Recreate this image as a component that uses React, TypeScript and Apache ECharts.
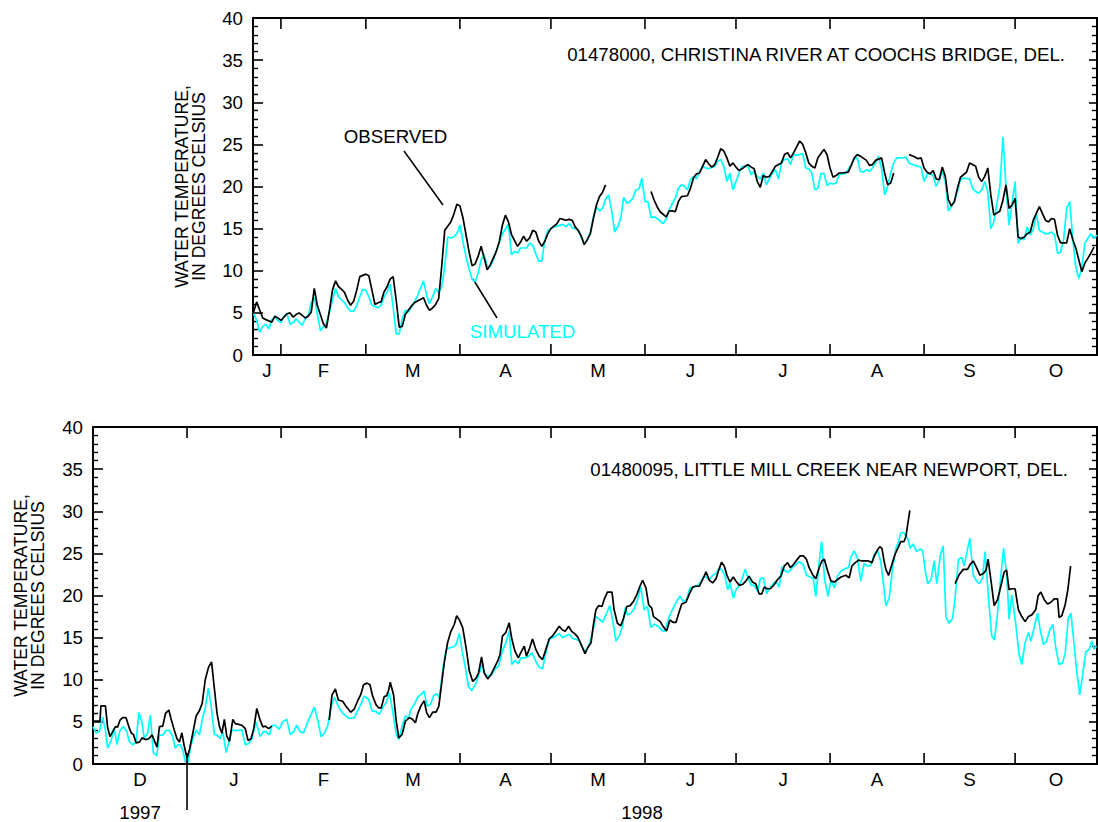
import { useEffect, useRef } from 'react';
import * as echarts from 'echarts';

const DAY = 86400000;
const JAN1 = Date.UTC(1998, 0, 1);
const FONT = 'Liberation Sans, Arial, Helvetica, sans-serif';
const CYAN = '#00FFFF';
const TEXT_SIZE = 18.7;

// Month initials, one per month starting December 1997
const monthLabels = ['D', 'J', 'F', 'M', 'A', 'M', 'J', 'J', 'A', 'S', 'O'];
const yearLabels = ['1997', '1998'];
const axisName = 'WATER TEMPERATURE,\nIN DEGREES CELSIUS';

// Plotted range of each panel, in days after 1 January 1998
const christinaRange = [21.8, 300];
const littleMillRange = [-31, 300];

// Daily water temperature, [days after 1 Jan 1998, degrees Celsius]; null marks a gap in the record
const christinaObserved: [number, number | null][] = [
  [22, 5.1], [23, 6.3], [25, 4.4], [26, 4.2], [28, 3.9], [29, 4.6], [30, 4.4], [31, 4.1], [33, 4.9], [34, 5.0],
  [35, 4.5], [36, 4.8], [37, 5.0], [38, 4.7], [39, 4.4], [40, 4.6], [41, 5.1], [42, 7.9], [43, 5.9], [45, 3.7],
  [46, 3.2], [47, 5.3], [48, 7.7], [49, 8.8], [50, 8.1], [51, 7.8], [52, 7.4], [53, 6.5], [54, 5.9], [55, 6.4],
  [56, 7.7], [57, 9.3], [59, 9.6], [60, 9.4], [61, 7.7], [62, 6.0], [63, 6.2], [64, 6.3], [65, 7.5], [66, 8.1],
  [67, 9.0], [68, 9.3], [69, 6.5], [70, 3.3], [71, 3.4], [72, 4.8], [73, 5.3], [74, 5.8], [75, 6.2], [76, 6.4],
  [77, 6.6], [78, 6.8], [79, 5.9], [80, 5.3], [81, 5.6], [82, 6.0], [83, 6.7], [84, 10.5], [85, 14.8], [87, 15.8],
  [88, 16.7], [89, 17.9], [90, 17.7], [91, 16.3], [92, 14.3], [93, 12.3], [94, 10.6], [95, 10.8], [96, 11.7], [97, 12.9],
  [98, 11.5], [99, 10.1], [100, 10.7], [101, 11.5], [102, 12.3], [103, 13.5], [104, 15.4], [105, 16.6], [106, 15.8], [107, 14.3],
  [109, 12.9], [110, 13.4], [111, 14.1], [112, 13.5], [113, 13.9], [114, 14.8], [115, 14.6], [116, 13.5], [117, 12.9], [118, 13.5],
  [119, 14.4], [120, 15.0], [121, 15.3], [122, 15.6], [123, 16.2], [124, 16.1], [125, 16.0], [126, 16.1], [127, 16.0], [128, 15.2],
  [129, 14.8], [130, 14.1], [131, 13.1], [132, 13.7], [133, 14.4], [134, 16.2], [135, 17.8], [136, 18.8], [137, 19.3], [138, 20.2],
  [145, null],
  [153, 19.4], [154, 18.4], [155, 17.6], [156, 17.0], [158, 16.4], [159, 17.1], [160, 17.1], [161, 17.0], [162, 18.2], [163, 18.8],
  [165, 18.9], [166, 19.8], [167, 21.0], [168, 21.5], [169, 21.6], [170, 22.4], [171, 23.2], [172, 22.7], [173, 22.3], [174, 22.6],
  [175, 23.5], [176, 24.5], [177, 24.2], [178, 23.4], [179, 22.4], [180, 22.8], [181, 22.3], [182, 21.9], [183, 22.1], [184, 22.4],
  [185, 22.6], [186, 22.3], [187, 22.1], [188, 20.6], [189, 19.9], [190, 21.3], [191, 21.1], [192, 21.2], [193, 21.8], [194, 22.4],
  [196, 22.8], [197, 23.8], [198, 24.0], [199, 23.4], [200, 24.0], [201, 24.7], [202, 25.4], [203, 25.0], [204, 24.0], [205, 22.8],
  [206, 22.4], [207, 22.2], [208, 23.4], [210, 24.4], [211, 23.8], [212, 22.2], [213, 21.1], [214, 21.3], [215, 21.6], [216, 21.6],
  [218, 21.7], [219, 22.5], [220, 23.4], [221, 23.8], [222, 23.6], [224, 23.1], [225, 22.5], [226, 22.6], [227, 23.1], [229, 23.4],
  [230, 21.6], [231, 20.2], [232, 20.4], [233, 21.6],
  [235, null],
  [238, 23.8], [240, 23.5], [241, 23.3], [242, 23.4], [243, 22.2], [244, 21.7], [245, 21.5], [246, 21.9], [247, 20.9], [248, 20.8],
  [249, 22.3], [250, 21.2], [251, 18.4], [252, 17.7], [253, 18.2], [254, 19.8], [255, 21.1], [257, 21.7], [258, 22.8], [260, 22.4],
  [261, 21.1], [262, 20.6], [263, 21.2], [264, 22.2], [265, 19.0], [266, 16.6], [268, 17.1], [269, 18.4], [270, 20.2], [271, 17.4],
  [272, 17.8], [273, 18.6], [274, 14.0], [275, 13.8], [276, 14.0], [277, 14.4], [278, 14.6], [279, 16.0], [281, 17.6], [282, 16.8],
  [283, 16.0], [284, 15.8], [285, 16.2], [286, 16.1], [287, 14.2], [288, 13.3], [290, 13.3], [291, 15.0], [292, 13.7], [293, 12.7],
  [295, 9.9], [296, 10.9], [297, 11.5], [298, 12.1], [299, 12.8],
];

const christinaSimulated: [number, number | null][] = [
  [22, 4.9], [23, 4.1], [24, 2.7], [25, 3.4], [26, 3.65], [27, 3.1], [28, 4.2], [29, 4.5], [30, 4.1], [31, 3.85],
  [32, 4.6], [33, 4.9], [34, 3.65], [35, 3.8], [36, 4.3], [37, 3.9], [38, 3.5], [39, 4.3], [40, 4.7], [41, 6.2],
  [42, 6.9], [44, 2.9], [45, 3.3], [46, 3.8], [48, 6.5], [49, 7.9], [50, 6.9], [52, 6.2], [53, 5.6], [54, 5.2],
  [55, 5.2], [56, 5.9], [57, 6.9], [58, 7.8], [59, 7.7], [60, 6.9], [61, 5.9], [63, 5.6], [64, 5.9], [65, 6.9],
  [66, 7.5], [67, 8.4], [68, 5.7], [69, 2.5], [70, 2.5], [71, 4.3], [72, 5.3], [73, 5.1], [74, 5.7], [75, 6.3],
  [76, 7.0], [77, 7.9], [78, 8.8], [79, 7.1], [80, 6.1], [81, 6.9], [82, 7.9], [83, 7.4], [84, 8.1], [85, 10.5],
  [86, 14.0], [87, 13.9], [88, 14.0], [89, 14.4], [90, 15.4], [91, 13.5], [92, 11.7], [93, 10.3], [94, 9.0], [95, 8.7],
  [96, 9.7], [97, 11.3], [98, 11.9], [99, 10.5], [100, 10.5], [101, 11.3], [102, 12.4], [103, 13.3], [104, 14.4], [106, 15.5],
  [107, 11.9], [108, 12.3], [109, 12.1], [110, 12.7], [111, 12.7], [112, 12.7], [113, 13.3], [114, 13.0], [115, 12.0], [116, 11.15],
  [117, 11.15], [118, 13.65], [119, 14.8], [120, 15.0], [121, 15.2], [122, 15.3], [124, 15.5], [125, 15.2], [126, 15.6], [127, 15.1],
  [128, 15.0], [129, 14.8], [130, 14.0], [131, 13.2], [132, 13.65], [133, 14.6], [134, 16.4], [135, 17.6], [136, 17.1], [137, 17.4],
  [138, 18.5], [139, 19.0], [140, 17.2], [141, 14.6], [142, 15.2], [143, 16.2], [144, 18.7], [145, 18.0], [146, 18.2], [147, 18.6],
  [148, 19.6], [149, 19.7], [150, 21.0], [151, 18.2], [152, 18.2], [153, 16.3], [154, 16.4], [155, 16.2], [157, 15.6], [158, 16.1],
  [159, 17.2], [160, 18.0], [161, 18.6], [162, 19.8], [163, 20.2], [164, 20.0], [165, 19.6], [166, 20.8], [167, 21.2], [168, 20.9],
  [169, 21.8], [170, 22.4], [171, 22.2], [172, 22.1], [174, 22.4], [175, 23.0], [176, 23.2], [177, 22.4], [178, 20.6], [179, 21.6],
  [180, 19.6], [181, 20.6], [182, 21.6], [183, 22.4], [185, 22.4], [186, 21.4], [187, 21.8], [188, 21.2], [189, 20.9], [190, 21.6],
  [191, 20.2], [192, 20.9], [193, 21.6], [194, 22.0], [195, 20.9], [196, 22.8], [197, 23.2], [198, 23.3], [199, 22.6], [200, 23.8],
  [201, 23.7], [202, 23.8], [203, 23.9], [204, 22.2], [205, 22.1], [206, 21.6], [207, 19.6], [208, 19.8], [209, 21.5], [210, 21.6],
  [211, 20.1], [212, 20.4], [213, 20.3], [214, 20.4], [215, 21.4], [216, 21.5], [217, 21.5], [219, 22.6], [220, 23.3], [221, 23.4],
  [222, 21.8], [223, 21.7], [224, 22.0], [225, 21.8], [226, 22.2], [227, 22.8], [228, 23.6], [229, 22.1], [230, 19.0], [231, 20.0],
  [232, 21.6], [233, 22.8], [234, 23.4], [236, 23.4], [237, 23.5], [238, 22.8], [240, 22.5], [241, 22.4], [242, 22.3], [243, 20.6],
  [244, 21.5], [245, 21.5], [246, 21.3], [247, 20.0], [248, 20.8], [249, 21.8], [250, 20.6], [251, 17.1], [252, 17.6], [253, 18.3],
  [254, 19.4], [255, 20.8], [256, 21.0], [258, 20.9], [259, 19.8], [260, 19.4], [261, 19.2], [262, 19.6], [263, 20.6], [264, 19.4],
  [265, 15.0], [266, 15.8], [267, 18.0], [268, 20.0], [269, 25.9], [270, 20.0], [271, 15.4], [272, 18.0], [273, 20.6], [274, 13.25],
  [275, 14.0], [276, 13.65], [277, 15.2], [278, 14.25], [279, 14.9], [280, 16.75], [281, 14.8], [283, 14.4], [284, 14.4], [285, 14.6],
  [286, 14.25], [287, 12.1], [288, 12.2], [289, 13.7], [290, 17.4], [291, 18.2], [292, 13.85], [293, 10.5], [294, 9.1], [295, 10.3],
  [296, 13.3], [297, 13.85], [298, 14.4], [299, 13.85], [300, 14.25],
];

const littleMillObserved: [number, number | null][] = [
  [-31, 5.1], [-28.7, 5.1], [-28.4, 6.9], [-26.9, 6.9], [-26.2, 4.4], [-25.4, 3.25], [-24.5, 3.85], [-23.6, 4.44], [-22.9, 4.37], [-22.1, 5.2],
  [-21.2, 5.5], [-20.1, 5.5], [-19.2, 4.44], [-18.4, 3.7], [-17.6, 3.45], [-16.8, 2.5], [-15.7, 2.6], [-14.8, 3.1], [-13.7, 2.9], [-12.6, 3.0],
  [-11.5, 3.45], [-10.8, 2.8], [-9.9, 2.0], [-9.1, 4.44], [-8, 4.5], [-7.1, 6.0], [-6, 6.4], [-5.3, 5.4], [-4.2, 4.0], [-3.3, 3.0],
  [-2.5, 2.6], [-1.7, 3.7], [-0.9, 2.1], [0, 0.7], [0.8, 1.7], [1.9, 3.65], [3, 5.7], [4.1, 6.35], [5, 7.2], [6, 10.0],
  [7.1, 11.5], [8.1, 12.1], [9, 9.0], [9.9, 6.0], [10.7, 4.44], [11.5, 3.65], [12.3, 5.3], [13.1, 3.3], [14, 2.7], [15.1, 5.3],
  [15.9, 4.8], [17, 4.7], [18.1, 4.6], [19.2, 4.2], [20.1, 2.8], [21.1, 3.0], [22, 4.2], [23, 6.6], [24.1, 5.2], [25, 4.4],
  [25.8, 4.5], [26.9, 4.2], [28, 4.5],
  [37, null],
  [46.9, 5.2], [47.8, 8.2], [48.9, 8.9], [49.9, 7.6], [51.3, 7.45], [52.4, 6.85], [54, 6.15], [55.1, 6.5], [56.2, 7.45], [57.3, 8.25],
  [58.2, 9.4], [59.3, 9.6], [60.3, 9.4], [61.2, 8.05], [62.3, 7.05], [63.2, 6.65], [64, 6.65], [65, 8.0], [65.8, 8.1], [66.5, 8.8],
  [67, 9.7], [68.1, 8.2], [68.9, 5.3], [69.8, 3.1], [70.9, 3.5], [72, 5.1], [73.3, 5.5], [74.2, 5.35], [75.3, 4.9], [76, 5.9],
  [77.1, 6.9], [78.2, 7.5], [79, 6.1], [79.9, 5.5], [81, 6.15], [82.1, 6.15], [83, 6.85], [83.7, 8.85], [84.8, 12.0], [85.9, 14.4],
  [87, 15.75], [88.1, 16.55], [88.9, 17.6], [89.8, 17.1], [90.9, 16.15], [92, 13.8], [93.1, 11.0], [94.2, 9.8], [95.3, 10.2], [96.1, 10.8],
  [97.1, 12.7], [98, 10.8], [99.1, 10.1], [100.2, 10.6], [101.3, 11.4], [102.4, 12.2], [103.2, 13.0], [104, 15.2], [105.1, 15.6], [106.2, 16.75],
  [107.1, 14.8], [108.1, 13.4], [109.2, 12.6], [110.3, 13.4], [111.2, 14.0], [111.9, 12.8], [112.8, 13.6], [113.9, 14.85], [115, 13.6], [116.1, 12.8],
  [117.2, 12.4], [118.3, 13.6], [119.4, 14.85], [120.5, 15.2], [121.6, 15.75], [122.7, 16.35], [123.8, 15.9], [124.7, 15.75], [125.8, 16.35], [126.8, 15.75],
  [127.7, 15.5], [128.8, 15.1], [129.9, 14.2], [131.2, 13.1], [132.1, 13.8], [133.2, 14.4], [134, 16.6], [134.8, 18.3], [135.7, 18.8], [136.8, 18.7],
  [137.5, 19.5], [138.6, 20.4], [140.1, 20.4], [140.8, 18.3], [141.9, 16.7], [143, 16.4], [143.9, 17.3], [145, 18.7], [146.1, 18.8], [147.2, 19.3],
  [148.3, 20.1], [149.3, 21.1], [150.2, 21.8], [151.3, 20.9], [152.2, 18.9], [153.2, 18.5], [153.8, 17.5], [154.9, 17.2], [156, 16.9], [157, 16.3],
  [158.1, 15.8], [159.2, 17.1], [160.3, 16.8], [161.2, 16.8], [162.1, 17.9], [163.1, 19.0], [164.5, 19.2], [165.6, 20.2], [166.7, 21.0], [167.5, 21.1],
  [168.9, 21.1], [170, 21.9], [171.1, 22.8], [172.2, 21.8], [173.3, 21.5], [174.4, 22.0], [175.2, 22.9], [176.2, 23.95], [177.1, 23.5], [178, 22.4],
  [179, 21.6], [180.1, 22.2], [181, 21.7], [182.1, 21.2], [183.1, 21.3], [184.2, 21.7], [185.3, 22.3], [186.4, 21.6], [187.5, 21.4], [188.6, 20.2],
  [189.5, 20.2], [190.3, 21.0], [191.2, 20.8], [192.3, 20.8], [193.6, 21.3], [194.7, 21.9], [195.8, 22.3], [196.9, 23.5], [198, 23.9], [198.9, 23.3],
  [200, 23.7], [201, 24.2], [202.1, 24.7], [203.2, 24.7], [204.2, 24.3], [205.1, 23.3], [206.2, 22.5], [207.3, 22.0], [208.4, 23.3], [209.3, 24.1],
  [210.1, 24.3], [211.2, 22.9], [212.3, 21.7], [213.4, 21.6], [214.5, 21.9], [215.6, 22.2], [217.2, 22.4], [218.3, 22.1], [219.2, 23.5], [220.3, 23.9],
  [221.4, 24.2], [222.5, 24.1], [223.6, 24.1], [224.7, 24.1], [225.8, 23.9], [226.5, 24.6], [227.6, 25.4], [228.4, 25.8], [229.1, 25.6], [229.8, 24.1],
  [230.4, 23.1], [231.3, 22.4], [232.4, 23.7], [233.5, 24.97], [234.6, 25.8], [235.3, 26.4], [236.4, 26.4], [237, 27.0], [237.5, 28.2], [238.3, 30.1],
  [245, null],
  [253.2, 21.4], [254.6, 22.5], [255.9, 23.1], [257.3, 23.1], [258.2, 23.7], [259.2, 24.1], [260.3, 23.3], [261.4, 22.4], [262.5, 22.6], [263.4, 23.0],
  [264.1, 24.3], [265, 21.9], [266.1, 18.8], [267.2, 19.5], [268.3, 21.1], [269.4, 22.8], [270.2, 23.0], [271, 20.7], [271.9, 20.8], [273, 20.8],
  [274.1, 18.3], [275.2, 17.5], [276.3, 16.9], [277.4, 17.5], [278.5, 17.7], [279.8, 18.3], [280.6, 20.0], [281.5, 20.4], [282.6, 19.5], [283.7, 19.0],
  [284.8, 19.2], [285.9, 19.6], [287, 19.6], [287.5, 17.4], [288.4, 17.6], [289.5, 18.9], [290.4, 20.7], [291.3, 23.5],
];

const littleMillSimulated: [number, number | null][] = [
  [-31, 4.44], [-30, 3.65], [-28.9, 3.85], [-27.8, 5.6], [-26.9, 4.0], [-26.2, 1.9], [-25.1, 2.7], [-24, 4.2], [-23.1, 2.3], [-22.1, 4.0],
  [-21, 4.44], [-19.9, 3.85], [-19, 2.65], [-17.9, 2.26], [-16.8, 2.65], [-15.9, 6.1], [-14.9, 5.0], [-14.1, 3.05], [-13, 3.65], [-12.1, 5.8],
  [-11.1, 1.35], [-10, 0.95], [-9.1, 3.45], [-8, 3.4], [-6.9, 4.0], [-5.8, 4.0], [-4.7, 3.25], [-3.9, 1.9], [-3.1, 2.26], [-2.2, 2.26],
  [-1.4, 1.65], [-0.6, 0.3], [0.3, 0.15], [1.3, 2.26], [2.2, 3.25], [3, 4.0], [4.1, 3.45], [5.2, 5.6], [6, 6.6], [7, 9.0],
  [8, 6.8], [9, 3.5], [9.9, 3.45], [10.9, 3.0], [11.8, 3.85], [12.9, 1.35], [14, 2.85], [14.8, 4.0], [15.9, 4.0], [17, 4.0],
  [18.1, 4.05], [19.2, 2.3], [20.3, 2.4], [21.4, 3.0], [22.7, 5.0], [24.1, 3.25], [25.2, 3.85], [26, 3.85], [27.1, 3.45], [28, 4.6],
  [29.1, 4.6], [30.4, 4.1], [31.5, 5.0], [32.9, 5.3], [34, 3.5], [35.1, 3.8], [36.2, 4.6], [37.3, 3.8], [38.4, 3.7], [39.4, 4.6],
  [40.5, 5.6], [42, 6.75], [43.1, 5.2], [44.2, 3.25], [45.3, 3.65], [46.4, 4.6], [47.5, 6.8], [48.6, 7.9], [49.7, 7.0], [50.2, 6.65],
  [51.3, 6.05], [52.4, 5.7], [53.5, 5.4], [55.1, 5.5], [56.2, 6.3], [57.3, 7.05], [58.4, 8.05], [59.9, 7.65], [61, 6.3], [62.3, 6.2],
  [63.4, 5.9], [64.5, 6.7], [65.6, 7.25], [66.7, 8.45], [67.8, 6.3], [68.9, 3.7], [69.8, 2.9], [70.9, 4.5], [72, 5.7], [73.1, 5.5],
  [73.8, 6.5], [74.9, 7.05], [76, 7.9], [77.1, 8.25], [78.2, 8.65], [79.1, 6.9], [80.2, 7.0], [81.3, 8.1], [82.4, 8.35], [83.2, 7.85],
  [84.3, 11.2], [85.4, 13.6], [86.7, 13.8], [87.8, 13.9], [88.7, 14.2], [89.8, 15.5], [90.6, 13.6], [91.7, 11.6], [92.8, 9.2], [93.9, 8.7],
  [95.3, 9.6], [96.4, 10.9], [97.2, 11.8], [98.3, 10.6], [99.4, 10.4], [100.5, 10.6], [101.6, 11.3], [102.7, 11.6], [103.8, 13.2], [105.1, 14.4],
  [106.2, 15.75], [107.1, 11.8], [108.1, 12.3], [109.2, 11.9], [110.1, 12.6], [111.5, 12.6], [112.6, 12.8], [113.7, 13.2], [115, 12.2], [116.1, 11.5],
  [117.2, 11.3], [118.3, 13.2], [119.4, 14.8], [120.5, 15.0], [121.6, 15.2], [122.7, 15.5], [123.8, 15.0], [124.9, 15.2], [126, 15.4], [127.1, 14.9],
  [128.4, 14.8], [129.3, 14.6], [130.4, 13.8], [131.5, 13.3], [132.6, 14.2], [133.7, 15.6], [134.8, 17.5], [135.9, 17.2], [137, 16.8], [138.1, 17.7],
  [139.4, 18.8], [140.3, 17.1], [141.4, 14.6], [142.5, 15.2], [143.6, 16.4], [144.5, 18.6], [145.2, 17.7], [146.3, 17.9], [147.4, 18.4], [148.5, 19.5],
  [149.6, 21.0], [150.7, 18.3], [151.8, 18.7], [152.9, 16.2], [154, 16.6], [155.1, 16.4], [156.2, 16.0], [157.3, 15.7], [158.4, 16.8], [159.2, 17.7],
  [160.3, 18.5], [161.4, 19.3], [162.5, 19.9], [163.6, 19.3], [164.7, 19.5], [165.8, 20.9], [167.2, 21.0], [168.3, 21.2], [169.4, 21.6], [170.2, 22.2],
  [171.1, 22.2], [172.2, 21.9], [173.3, 22.4], [174.4, 22.6], [175.5, 23.3], [176.6, 22.9], [177.4, 22.3], [178.2, 20.7], [179, 21.5], [180.1, 19.7],
  [181, 20.7], [182.1, 21.2], [182.9, 21.9], [184, 23.1], [185.1, 22.0], [186, 21.2], [187, 21.2], [188.1, 20.5], [189, 22.0], [190, 22.1],
  [191.1, 20.2], [191.9, 20.8], [193, 21.3], [194.1, 21.7], [195.2, 21.0], [196.1, 23.4], [197.2, 22.9], [198.3, 22.8], [199.6, 23.3], [200.7, 23.7],
  [201.8, 24.0], [203.1, 23.7], [204.2, 22.4], [205.3, 22.2], [206.4, 22.1], [207.3, 19.9], [208.4, 23.9], [209.2, 26.4], [210.2, 21.9], [211.3, 19.9],
  [212.3, 21.9], [213.4, 20.9], [214.5, 22.3], [215.6, 22.9], [217, 23.2], [218.1, 23.3], [218.8, 24.5], [219.9, 25.3], [221, 24.5], [222.1, 21.7],
  [223.2, 23.8], [224.3, 23.5], [225.4, 23.5], [226.5, 24.8], [227.6, 25.4], [228.7, 24.1], [229.5, 21.7], [230.4, 18.8], [231.5, 19.7], [232.6, 23.3],
  [233.7, 25.6], [234.6, 26.4], [235.3, 27.4], [236.2, 27.5], [237, 27.1], [237.7, 26.7], [238.4, 25.6], [239.4, 26.1], [240.5, 25.2], [241.6, 25.5],
  [242.5, 25.4], [243.4, 22.9], [244.2, 21.4], [245.3, 21.9], [246.3, 24.1], [247.2, 21.4], [248.3, 24.7], [249.3, 25.9], [250.2, 17.5], [251.3, 16.7],
  [252.4, 17.3], [253.2, 19.7], [254.3, 24.3], [255.4, 24.5], [256.2, 23.5], [257.1, 25.1], [258.1, 26.8], [259.2, 22.4], [260.3, 21.7], [261.2, 21.4],
  [262.3, 22.1], [263.1, 25.2], [264.2, 19.9], [265.3, 15.2], [266.2, 14.7], [267.2, 17.9], [268.1, 21.6], [269.2, 25.6], [270.3, 22.3], [271, 17.2],
  [271.9, 20.1], [273.2, 16.7], [274.3, 13.0], [275.2, 11.8], [276.3, 14.4], [277.4, 15.6], [278.2, 14.6], [279.3, 16.2], [280.4, 17.9], [281.3, 15.9],
  [282.3, 14.2], [283.4, 14.6], [284.5, 16.0], [285.5, 16.55], [286.4, 13.8], [287.5, 11.8], [288.6, 12.0], [289.5, 13.1], [290.5, 17.3], [291.4, 17.9],
  [292.3, 14.8], [293.2, 11.4], [294.3, 8.2], [295.2, 10.4], [296.3, 13.3], [297.4, 13.6], [298.3, 14.6], [299.1, 13.6], [299.8, 14.0],
];

const toTime = (d: number) => JAN1 + d * DAY;
const toSeriesData = (rows: [number, number | null][]) =>
  rows.map(([d, v]) => [toTime(d), v === null ? '-' : v]);

const tickLine = (x1: number, y1: number, x2: number, y2: number) => ({
  type: 'line',
  shape: { x1, y1, x2, y2 },
  style: { stroke: '#000', lineWidth: 1.6 },
});

const labelText = (text: string, x: number, y: number) => ({
  type: 'text',
  x,
  y,
  style: {
    text,
    fill: '#000',
    fontSize: TEXT_SIZE,
    fontFamily: FONT,
    align: 'center',
    verticalAlign: 'middle',
    textAlign: 'center',
    textVerticalAlign: 'middle',
  },
});

// Month boundary ticks (top and bottom edges) and centred month initials below the axis
function monthAxisSeries(gridIndex: number, range: number[], yearDivider: boolean) {
  const xMin = toTime(range[0]);
  const xMax = toTime(range[1]);
  const items = monthLabels
    .map((_, i) => [Date.UTC(1997, 11 + i, 1), 0, Date.UTC(1997, 12 + i, 1), i])
    .filter((d) => d[2] > xMin && d[0] < xMax);
  return {
    type: 'custom',
    xAxisIndex: gridIndex,
    yAxisIndex: gridIndex * 2,
    clip: false,
    silent: true,
    z: 5,
    encode: { x: 0, y: 1 },
    data: items,
    renderItem: (_params: any, api: any) => {
      const start = api.value(0);
      const end = api.value(2);
      const idx = api.value(3);
      const s = Math.max(start, xMin);
      const e = Math.min(end, xMax);
      const pS = api.coord([s, 0]);
      const pE = api.coord([e, 0]);
      const yBottom = pS[1];
      const yTop = api.coord([s, 40])[1];
      const children: any[] = [];
      if (start > xMin) {
        const xt = api.coord([start, 0])[0];
        children.push(tickLine(xt, yBottom, xt, yBottom - 11));
        children.push(tickLine(xt, yTop, xt, yTop + 11));
        if (yearDivider && new Date(start).getUTCMonth() === 0) {
          children.push(tickLine(xt, yBottom, xt, yBottom + 46));
        }
      }
      children.push(labelText(monthLabels[idx], (pS[0] + pE[0]) / 2, yBottom + 15));
      return { type: 'group', children };
    },
  };
}

// Year names centred under the part of each year that is shown
function yearAxisSeries(gridIndex: number, range: number[]) {
  const xMin = toTime(range[0]);
  const xMax = toTime(range[1]);
  const items = yearLabels.map((_, i) => [Date.UTC(1997 + i, 0, 1), 0, Date.UTC(1998 + i, 0, 1), i]);
  return {
    type: 'custom',
    xAxisIndex: gridIndex,
    yAxisIndex: gridIndex * 2,
    clip: false,
    silent: true,
    z: 5,
    encode: { x: 0, y: 1 },
    data: items,
    renderItem: (_params: any, api: any) => {
      const s = Math.max(api.value(0), xMin);
      const e = Math.min(api.value(2), xMax);
      const pS = api.coord([s, 0]);
      const pE = api.coord([e, 0]);
      return labelText(yearLabels[api.value(3)], (pS[0] + pE[0]) / 2, pS[1] + 48);
    },
  };
}

const yAxisPair = (gridIndex: number) => [
  {
    type: 'value',
    gridIndex,
    position: 'left',
    min: 0,
    max: 40,
    interval: 5,
    axisLine: { show: false },
    axisTick: { show: true, inside: true, length: 10, lineStyle: { color: '#000', width: 1.6 } },
    minorTick: { show: true, splitNumber: 5, length: 5, lineStyle: { color: '#000', width: 1.4 } },
    axisLabel: { color: '#000', fontSize: TEXT_SIZE, fontFamily: FONT, margin: 10 },
    splitLine: { show: false },
    minorSplitLine: { show: false },
  },
  {
    type: 'value',
    gridIndex,
    position: 'right',
    min: 0,
    max: 40,
    interval: 5,
    axisLine: { show: false },
    axisTick: { show: true, inside: true, length: 8, lineStyle: { color: '#000', width: 1.6 } },
    minorTick: { show: true, splitNumber: 5, length: 5, lineStyle: { color: '#000', width: 1.4 } },
    axisLabel: { show: false },
    splitLine: { show: false },
    minorSplitLine: { show: false },
  },
];

const timeAxis = (gridIndex: number, range: number[]) => ({
  type: 'time',
  gridIndex,
  min: toTime(range[0]),
  max: toTime(range[1]),
  axisLine: { show: false },
  axisTick: { show: false },
  axisLabel: { show: false },
  splitLine: { show: false },
});

const lineSeries = (gridIndex: number, rows: [number, number | null][], color: string, z: number) => ({
  type: 'line',
  xAxisIndex: gridIndex,
  yAxisIndex: gridIndex * 2,
  data: toSeriesData(rows),
  showSymbol: false,
  symbol: 'none',
  connectNulls: false,
  lineStyle: { color, width: 1.7 },
  z,
  silent: true,
});

const annotation = (text: string, x: number, y: number, align: string, fill = '#000') => ({
  type: 'text',
  x,
  y,
  style: {
    text,
    fill,
    fontSize: TEXT_SIZE,
    fontFamily: FONT,
    align,
    verticalAlign: 'middle',
    textAlign: align,
    textVerticalAlign: 'middle',
  },
});

const rotatedName = (x: number, y: number) => ({
  type: 'text',
  x,
  y,
  rotation: Math.PI / 2,
  style: {
    text: axisName,
    fill: '#000',
    fontSize: 17.6,
    lineHeight: 17,
    fontFamily: FONT,
    align: 'center',
    verticalAlign: 'middle',
    textAlign: 'center',
    textVerticalAlign: 'middle',
  },
});

const leader = (x1: number, y1: number, x2: number, y2: number) => ({
  type: 'line',
  shape: { x1, y1, x2, y2 },
  style: { stroke: '#000', lineWidth: 1.5 },
});

export default function App() {
  const ref = useRef<HTMLDivElement>(null);

  useEffect(() => {
    if (!ref.current) return;
    const chart = echarts.init(ref.current, undefined, { renderer: 'svg' });
    const border = { show: true, borderColor: '#000', borderWidth: 2, backgroundColor: 'transparent' };
    chart.setOption({
      animation: false,
      backgroundColor: '#fff',
      textStyle: { fontFamily: FONT },
      grid: [
        { left: 253, top: 18, width: 844, height: 337, ...border },
        { left: 93, top: 427, width: 1004, height: 337, ...border },
      ],
      xAxis: [timeAxis(0, christinaRange), timeAxis(1, littleMillRange)],
      yAxis: [...yAxisPair(0), ...yAxisPair(1)],
      series: [
        lineSeries(0, christinaSimulated, CYAN, 2),
        lineSeries(0, christinaObserved, '#000', 3),
        lineSeries(1, littleMillSimulated, CYAN, 2),
        lineSeries(1, littleMillObserved, '#000', 3),
        monthAxisSeries(0, christinaRange, false),
        monthAxisSeries(1, littleMillRange, true),
        yearAxisSeries(1, littleMillRange),
      ],
      graphic: [
        rotatedName(190.5, 186.5),
        rotatedName(29.5, 595.5),
        annotation('01478000, CHRISTINA RIVER AT COOCHS BRIDGE, DEL.', 1065, 54, 'right'),
        annotation('01480095, LITTLE MILL CREEK NEAR NEWPORT, DEL.', 1068, 469, 'right'),
        annotation('OBSERVED', 395.5, 136, 'center'),
        leader(404, 151, 443, 205),
        annotation('SIMULATED', 522.5, 331, 'center', CYAN),
        leader(473, 279, 497, 318),
      ],
    });
    return () => chart.dispose();
  }, []);

  return (
    <div
      ref={ref}
      style={{ position: 'fixed', left: 0, top: 0, width: 1098, height: 822, background: '#fff' }}
    />
  );
}
